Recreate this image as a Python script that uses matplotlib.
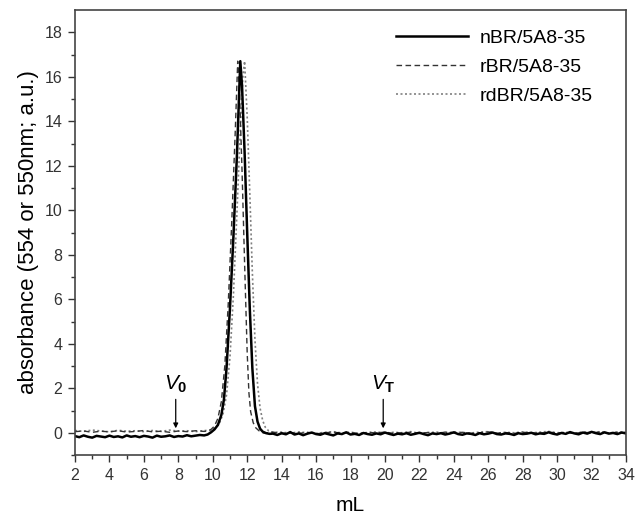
import numpy as np
import matplotlib.pyplot as plt

plt.rcParams['font.family'] = ['Liberation Sans', 'DejaVu Sans']
plt.rcParams['mathtext.fontset'] = 'custom'
plt.rcParams['mathtext.rm'] = 'Liberation Sans'
plt.rcParams['mathtext.it'] = 'Liberation Sans:italic'
plt.rcParams['mathtext.bf'] = 'Liberation Sans:bold'

# ------------------------------------------------------------
# Data
# ------------------------------------------------------------

# nBR/5A8-35 (solid)
n_pre_x = np.arange(2.0, 9.51, 0.25)
n_pre_y = [-0.15, -0.2, -0.12, -0.18, -0.22, -0.14, -0.17, -0.2, -0.13, -0.19,
           -0.16, -0.21, -0.12, -0.18, -0.15, -0.2, -0.14, -0.17, -0.22, -0.13,
           -0.18, -0.16, -0.12, -0.19, -0.15, -0.17, -0.11, -0.16, -0.13, -0.1,
           -0.12]
n_peak_x = [9.7, 9.9, 10.1, 10.3, 10.5, 10.65, 10.8, 11.0, 11.2, 11.4, 11.5,
            11.6, 11.7, 11.85, 12.0, 12.15, 12.3, 12.45, 12.6, 12.75, 12.9,
            13.1, 13.3]
n_peak_y = [-0.08, 0.02, 0.15, 0.35, 0.8, 1.5, 2.9, 5.6, 8.8, 12.4, 14.6,
            16.7, 15.6, 12.6, 9.0, 5.6, 2.9, 1.2, 0.5, 0.18, 0.05, -0.02, -0.05]
n_post_x = np.arange(13.5, 34.01, 0.25)
n_post_y = [-0.04, -0.1, -0.02, -0.07, 0.03, -0.08, -0.03, -0.11, -0.04, 0.01,
            -0.06, -0.09, -0.02, -0.07, -0.12, -0.03, -0.06, 0.02, -0.08, -0.05,
            -0.1, -0.01, -0.06, -0.09, -0.03, -0.07, 0.01, -0.05, -0.1, -0.04,
            -0.07, -0.02, -0.09, -0.05, 0.0, -0.06, -0.11, -0.03, -0.06, -0.02,
            -0.08, -0.04, 0.02, -0.06, -0.09, -0.03, -0.05, -0.1, -0.02, -0.07,
            -0.04, 0.01, -0.06, -0.08, -0.03, -0.05, -0.1, -0.02, -0.06, -0.04,
            0.0, -0.07, -0.03, -0.05, 0.02, -0.04, -0.08, -0.01, -0.05, 0.03,
            -0.03, -0.07, 0.01, -0.04, 0.04, -0.02, -0.06, 0.02, -0.04, -0.01,
            -0.06, 0.01, -0.03]

# rBR/5A8-35 (dashed)
r_pre_x = np.arange(2.0, 9.51, 0.5)
r_pre_y = [0.05, 0.08, 0.02, 0.07, 0.04, 0.09, 0.03, 0.06, 0.1, 0.04, 0.07,
           0.02, 0.08, 0.05, 0.09, 0.06]
r_peak_x = [9.7, 9.9, 10.1, 10.3, 10.5, 10.7, 10.9, 11.1, 11.3, 11.45, 11.55,
            11.7, 11.85, 12.0, 12.1, 12.2, 12.35, 12.5, 12.7, 12.9]
r_peak_y = [0.08, 0.15, 0.3, 0.65, 1.4, 3.0, 5.8, 9.4, 13.4, 16.7, 15.4,
            11.8, 7.6, 3.6, 1.8, 0.95, 0.45, 0.22, 0.08, 0.0]
r_post_x = np.arange(13.0, 34.01, 0.5)
r_post_y = [-0.02, 0.03, -0.04, 0.01, -0.03, 0.02, -0.05, 0.0, 0.03, -0.02,
            0.01, -0.04, 0.02, -0.01, 0.03, -0.03, 0.0, 0.02, -0.02, 0.01,
            -0.04, 0.03, -0.01, 0.02, -0.03, 0.0, 0.04, -0.02, 0.01, -0.03,
            0.02, 0.0, -0.02, 0.03, -0.01, 0.01, -0.03, 0.02, 0.0, 0.03,
            -0.01, 0.02, 0.0]

# rdBR/5A8-35 (dotted)
d_pre_x = np.arange(2.0, 9.51, 0.5)
d_pre_y = [0.1, 0.06, 0.12, 0.08, 0.04, 0.11, 0.07, 0.09, 0.05, 0.1, 0.06,
           0.12, 0.07, 0.09, 0.05, 0.1]
d_peak_x = [9.8, 10.0, 10.2, 10.4, 10.6, 10.8, 11.0, 11.2, 11.4, 11.6, 11.75,
            11.85, 12.0, 12.15, 12.3, 12.45, 12.6, 12.75, 12.9, 13.05, 13.25,
            13.5]
d_peak_y = [0.1, 0.15, 0.25, 0.45, 0.85, 1.7, 3.4, 6.2, 9.8, 13.6, 16.0,
            16.7, 14.2, 10.8, 7.2, 4.2, 2.2, 1.1, 0.55, 0.25, 0.08, 0.02]
d_post_x = np.arange(14.0, 34.01, 0.5)
d_post_y = [0.03, -0.02, 0.04, 0.0, -0.03, 0.02, 0.05, -0.01, 0.03, -0.04,
            0.01, 0.04, -0.02, 0.02, 0.0, 0.05, -0.03, 0.01, 0.03, -0.02,
            0.04, 0.0, -0.01, 0.03, 0.05, -0.02, 0.02, 0.0, 0.04, -0.01,
            0.03, 0.06, 0.0, 0.02, -0.02, 0.04, 0.01, 0.05, -0.01, 0.03,
            0.02]

v0_x, vt_x = 7.85, 19.9

# ------------------------------------------------------------
# Plot
# ------------------------------------------------------------

n_x = np.concatenate([n_pre_x, n_peak_x, n_post_x])
n_y = np.concatenate([n_pre_y, n_peak_y, n_post_y])
r_x = np.concatenate([r_pre_x, r_peak_x, r_post_x])
r_y = np.concatenate([r_pre_y, r_peak_y, r_post_y])
d_x = np.concatenate([d_pre_x, d_peak_x, d_post_x])
d_y = np.concatenate([d_pre_y, d_peak_y, d_post_y])

fig = plt.figure(figsize=(6.44, 5.15), dpi=100)
ax = fig.add_axes([75 / 644, 1 - 455 / 515, 551 / 644, 445 / 515])

ax.plot(d_x, d_y, color='#808080', linestyle=(0, (1.2, 1.5)), linewidth=1.2,
        label='rdBR/5A8-35')
ax.plot(r_x, r_y, color='#333333', linestyle=(0, (4, 2.5)), linewidth=1.0,
        label='rBR/5A8-35')
ax.plot(n_x, n_y, color='black', linewidth=1.8, label='nBR/5A8-35')

ax.set_xlim(2, 34)
ax.set_ylim(-1, 19)
ax.set_xticks(np.arange(2, 35, 2))
ax.set_xticks(np.arange(2, 35, 1), minor=True)
ax.set_yticks(np.arange(0, 19, 2))
ax.set_yticks(np.arange(-1, 19, 1), minor=True)
ax.tick_params(which='major', length=5, width=1, color='#333333',
               labelsize=11.5, labelcolor='#333333', pad=4)
ax.tick_params(which='minor', length=3, width=1, color='#333333')
for s in ax.spines.values():
    s.set_color('#444444')
    s.set_linewidth(1.2)

ax.set_xlabel('mL', fontsize=15, labelpad=10)
ax.set_ylabel('absorbance (554 or 550nm; a.u.)', fontsize=16, labelpad=4)

for xv, lab in [(v0_x, r'$\mathit{V}_\mathbf{0}$'), (vt_x, r'$\mathit{V}_\mathbf{T}$')]:
    ax.annotate('', xy=(xv, 0.2), xytext=(xv, 1.5),
                arrowprops=dict(arrowstyle='-|>', color='black', lw=0.9,
                                mutation_scale=7, shrinkA=0, shrinkB=0))
    ax.text(xv, 1.7, lab, fontsize=15, ha='center', va='bottom')

handles, labels = ax.get_legend_handles_labels()
order = [2, 1, 0]
ax.legend([handles[i] for i in order], [labels[i] for i in order],
          loc='upper left', bbox_to_anchor=(396 / 644, 1 - 29 / 515),
          bbox_transform=fig.transFigure, frameon=False, fontsize=14,
          handlelength=3.7, handletextpad=0.6, labelspacing=0.6,
          borderpad=0, borderaxespad=0)

fig.savefig('out.png', dpi=100)
